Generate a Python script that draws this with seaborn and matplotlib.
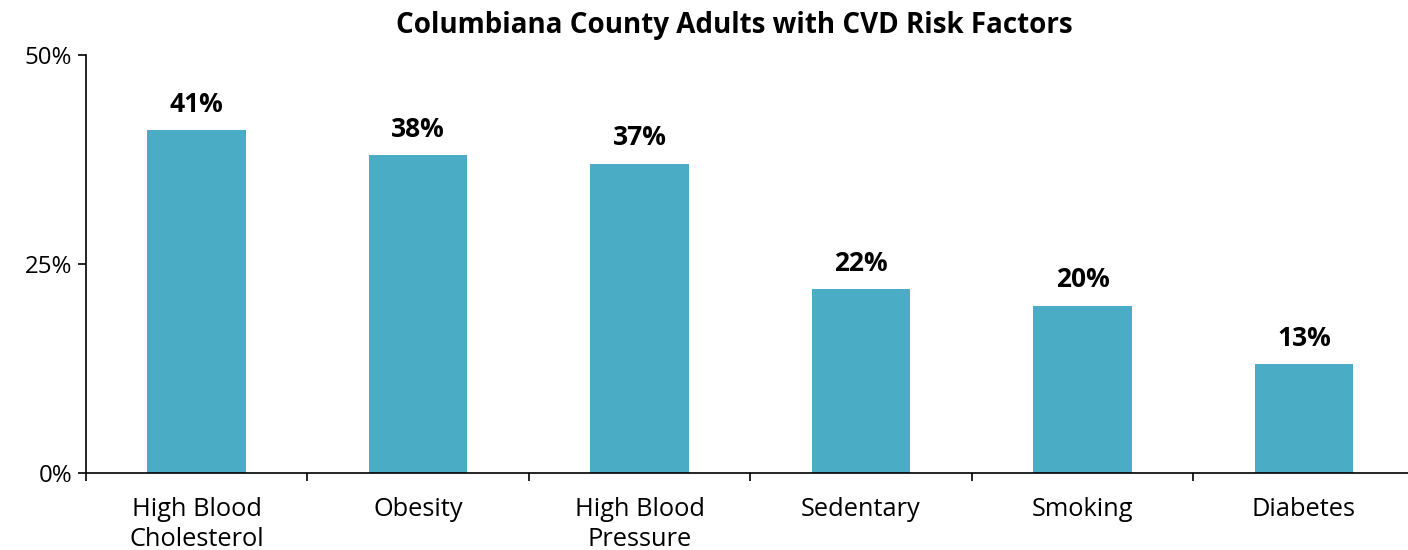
import matplotlib.pyplot as plt
import numpy as np
import pandas as pd
import seaborn as sns
from matplotlib.ticker import FixedLocator, PercentFormatter

categories = ["High Blood\nCholesterol", "Obesity", "High Blood\nPressure",
              "Sedentary", "Smoking", "Diabetes"]
percent = [41, 38, 37, 22, 20, 13]
y_ticks = [0, 25, 50]

df = pd.DataFrame({"risk": categories, "pct": percent})

sns.set_theme(style="white")
plt.rcParams["font.family"] = ["Open Sans", "DejaVu Sans"]
plt.rcParams["text.color"] = "black"
plt.rcParams["xtick.color"] = "black"
plt.rcParams["ytick.color"] = "black"

fig = plt.figure(figsize=(14.08, 5.5), dpi=100)
ax = fig.add_axes([86 / 1408, 1 - 473 / 550, 1 - 86 / 1408, (473 - 55) / 550])

sns.barplot(data=df, x="risk", y="pct", color="#4BACC6", saturation=1,
            width=0.445, linewidth=0, ax=ax)

for i, v in enumerate(percent):
    ax.text(i, v + 1.5, f"{v}%", ha="center", va="bottom",
            fontsize=19, fontweight="bold", color="black")

ax.set_xlim(-0.5, 5.47)
ax.set_ylim(0, 50)
ax.set_yticks(y_ticks)
ax.yaxis.set_major_formatter(PercentFormatter(decimals=0))
ax.set_xlabel("")
ax.set_ylabel("")

ax.tick_params(axis="x", which="major", length=0, labelsize=18.3, pad=17,
               labelcolor="black")
ax.xaxis.set_minor_locator(FixedLocator(np.arange(-0.5, 5.0, 1.0)))
ax.tick_params(axis="x", which="minor", direction="out", length=6,
               width=1.2, color="black", bottom=True)
ax.tick_params(axis="y", direction="out", length=6, width=1.2,
               color="black", labelsize=17.3, left=True, pad=4,
               labelcolor="black")
for lbl in ax.get_xticklabels():
    lbl.set_linespacing(1.3)

sns.despine(ax=ax)
for side in ("left", "bottom"):
    ax.spines[side].set_color("black")
    ax.spines[side].set_linewidth(1.2)

fig.text(734 / 1408, 1 - 25 / 550, "Columbiana County Adults with CVD Risk Factors",
         ha="center", va="center", fontsize=20, fontweight="bold")

fig.savefig("out.png", dpi=100)
